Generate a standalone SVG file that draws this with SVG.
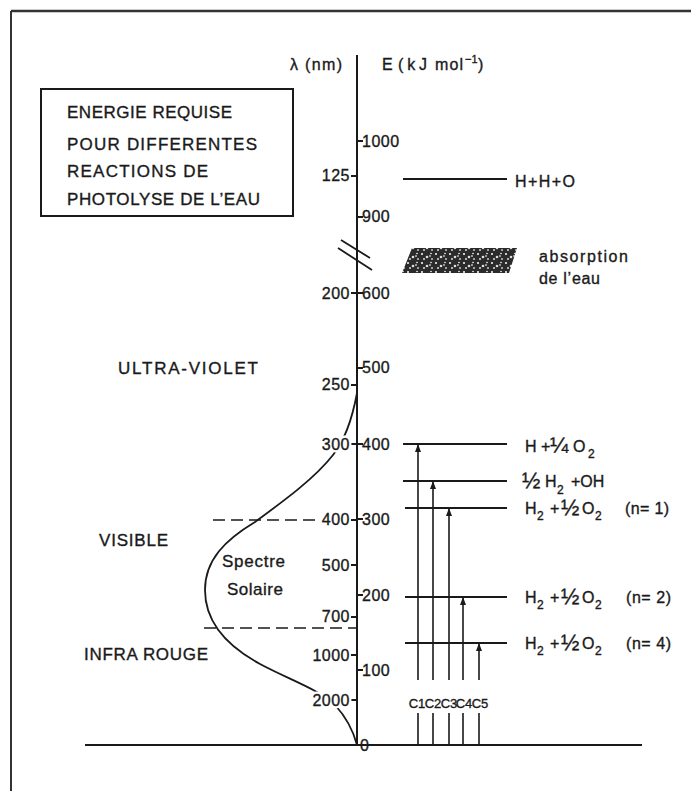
<svg xmlns="http://www.w3.org/2000/svg" width="691" height="791" viewBox="0 0 691 791">
<style>
text{font-family:"Liberation Sans",Arial,sans-serif;fill:#1a1a1a;stroke:#1a1a1a;stroke-width:0.35}
.ln{stroke:#1a1a1a;stroke-width:1.8;fill:none}
.ax{stroke:#1a1a1a;stroke-width:2;fill:none}
.tk{font-size:16px;letter-spacing:0.5px}
.halo{fill:#fff;stroke:#fff;stroke-width:5;stroke-linejoin:round}
.lbl{font-size:16px}
.big{font-size:17px}
.sub{font-size:12px}
.fr{font-size:22px}
.dash{stroke:#1a1a1a;stroke-width:1.6;stroke-dasharray:12 6;fill:none}
</style>
<defs>
<marker id="ah" markerWidth="8" markerHeight="6" refX="7" refY="3" orient="auto" markerUnits="userSpaceOnUse">
<path d="M0,0 L8,3 L0,6 Z" fill="#1a1a1a"/>
</marker>
<pattern id="spk" width="14" height="9" patternUnits="userSpaceOnUse">
<rect width="14" height="9" fill="#2b2b2b"/>
<circle cx="2" cy="2" r="1" fill="#fff"/>
<circle cx="7" cy="5" r="1.3" fill="#ddd"/>
<circle cx="11" cy="1.5" r="0.8" fill="#fff"/>
<circle cx="4" cy="7" r="0.9" fill="#eee"/>
<circle cx="12" cy="7" r="1.1" fill="#bbb"/>
<rect x="9" y="3.5" width="2" height="1" fill="#fff"/>
</pattern>
</defs>

<g id="frame">
<line x1="11" y1="11" x2="691" y2="11" stroke="#333" stroke-width="2.5"/>
<line x1="11" y1="11" x2="11" y2="791" stroke="#333" stroke-width="2"/>
</g>

<g id="title-box">
<rect x="41" y="89" width="252" height="127" fill="none" stroke="#1a1a1a" stroke-width="2"/>
<text class="big" x="67" y="118" textLength="165" lengthAdjust="spacing">ENERGIE REQUISE</text>
<text class="big" x="67" y="150" textLength="190" lengthAdjust="spacing">POUR DIFFERENTES</text>
<text class="big" x="67" y="177" textLength="141" lengthAdjust="spacing">REACTIONS DE</text>
<text class="big" x="67" y="205" textLength="193" lengthAdjust="spacing">PHOTOLYSE DE L’EAU</text>
</g>

<g id="axes">
<line class="ax" x1="357" y1="55" x2="357" y2="745"/>
<line class="ax" x1="85" y1="745" x2="642" y2="745"/>
<line class="ln" x1="341" y1="240" x2="370" y2="258"/>
<line class="ln" x1="338" y1="248" x2="372" y2="270"/>
<text x="290" y="70" font-size="16" textLength="52" lengthAdjust="spacing">λ (nm)</text>
<text x="382" y="70" font-size="16">E</text>
<text x="398" y="70" font-size="16" textLength="29" lengthAdjust="spacing">(kJ</text>
<text x="435" y="70" font-size="16" textLength="28" lengthAdjust="spacing">mol</text>
<text x="465" y="63" font-size="11">−1</text>
<text x="478" y="70" font-size="16">)</text>
</g>

<g id="spectrum-curve">
<path class="ln" d="M357,393 C352,420 345,440 333,455 C315,478 285,500 255,522 C225,540 205,560 205,590 C205,620 225,645 260,664 C290,680 320,690 335,705 C347,718 353,730 357,745"/>
<line class="dash" x1="213" y1="520" x2="318" y2="520"/>
<line class="dash" x1="204" y1="628" x2="356" y2="628"/>
<text x="222" y="567" font-size="17" textLength="63" lengthAdjust="spacing">Spectre</text>
<text x="227" y="595" font-size="17" textLength="56" lengthAdjust="spacing">Solaire</text>
</g>

<g id="energy-ticks">
<path class="ln" d="M357,141h6M357,217h6M357,293h6M357,368h6M357,444h6M357,519h6M357,595h6M357,670h6"/>
<text class="tk" x="362" y="147">1000</text>
<text class="tk" x="362" y="222">900</text>
<text class="tk" x="362" y="299">600</text>
<text class="tk" x="362" y="373">500</text>
<text class="tk" x="362" y="450">400</text>
<text class="tk" x="362" y="525">300</text>
<text class="tk" x="362" y="601">200</text>
<text class="tk" x="362" y="676">100</text>
<text class="tk" x="360" y="751">0</text>
</g>

<g id="wavelength-ticks">
<path class="ln" d="M351,176h6M351,293h6M351,385h6M351,444h6M351,520h6M351,565h6M351,617h6M351,655h6M351,700h6"/>
<text class="tk halo" x="350" y="450" text-anchor="end">300</text>
<text class="tk halo" x="350" y="706" text-anchor="end">2000</text>
<text class="tk" x="350" y="181" text-anchor="end">125</text>
<text class="tk" x="350" y="299" text-anchor="end">200</text>
<text class="tk" x="350" y="390" text-anchor="end">250</text>
<text class="tk" x="350" y="450" text-anchor="end">300</text>
<text class="tk" x="350" y="525" text-anchor="end">400</text>
<text class="tk" x="350" y="571" text-anchor="end">500</text>
<text class="tk" x="350" y="622" text-anchor="end">700</text>
<text class="tk" x="350" y="661" text-anchor="end">1000</text>
<text class="tk" x="350" y="706" text-anchor="end">2000</text>
</g>

<g id="regions">
<text class="big" x="118" y="374" textLength="140" lengthAdjust="spacing">ULTRA-VIOLET</text>
<text class="big" x="99" y="546" textLength="69" lengthAdjust="spacing">VISIBLE</text>
<text class="big" x="84" y="660" textLength="124" lengthAdjust="spacing">INFRA ROUGE</text>
</g>

<g id="level-HHO">
<line class="ln" x1="403" y1="179" x2="507" y2="179"/>
<text class="lbl" x="515" y="187" textLength="60" lengthAdjust="spacing">H+H+O</text>
</g>

<g id="absorption">
<polygon points="412,248 517,248 509,273 402,273" fill="url(#spk)"/>
<text class="lbl" x="539" y="262" textLength="89" lengthAdjust="spacing">absorption</text>
<text class="lbl" x="539" y="284" textLength="61" lengthAdjust="spacing">de l’eau</text>
</g>

<g id="level-1">
<line class="ln" x1="403" y1="444" x2="507" y2="444"/>
<text class="lbl" y="452"><tspan x="525">H</tspan><tspan x="541">+</tspan><tspan x="550" class="fr" dy="1">¼</tspan><tspan x="573" dy="-1">O</tspan></text>
<text class="sub" x="588" y="458">2</text>
</g>
<g id="level-2">
<line class="ln" x1="403" y1="481" x2="507" y2="481"/>
<text class="lbl" y="487"><tspan x="522" class="fr" dy="1">½</tspan><tspan x="545" dy="-1">H</tspan><tspan x="571">+OH</tspan></text>
<text class="sub" x="557" y="494">2</text>
</g>
<g id="level-3">
<line class="ln" x1="405" y1="508" x2="507" y2="508"/>
<text class="lbl" y="514"><tspan x="525">H</tspan><tspan x="550">+</tspan><tspan x="561" class="fr" dy="1">½</tspan><tspan x="582" dy="-1">O</tspan></text>
<text class="sub" x="537" y="520">2</text>
<text class="sub" x="595" y="520">2</text>
<text class="lbl" x="625" y="514" textLength="44" lengthAdjust="spacing">(n= 1)</text>
</g>
<g id="level-4">
<line class="ln" x1="405" y1="597" x2="507" y2="597"/>
<text class="lbl" y="603"><tspan x="525">H</tspan><tspan x="550">+</tspan><tspan x="561" class="fr" dy="1">½</tspan><tspan x="582" dy="-1">O</tspan></text>
<text class="sub" x="537" y="609">2</text>
<text class="sub" x="595" y="609">2</text>
<text class="lbl" x="626" y="603" textLength="45" lengthAdjust="spacing">(n= 2)</text>
</g>
<g id="level-5">
<line class="ln" x1="405" y1="643" x2="507" y2="643"/>
<text class="lbl" y="649"><tspan x="525">H</tspan><tspan x="550">+</tspan><tspan x="561" class="fr" dy="1">½</tspan><tspan x="582" dy="-1">O</tspan></text>
<text class="sub" x="537" y="655">2</text>
<text class="sub" x="595" y="655">2</text>
<text class="lbl" x="626" y="649" textLength="45" lengthAdjust="spacing">(n= 4)</text>
</g>

<g id="connectors" stroke="#1a1a1a" stroke-width="1.6" fill="none">
<line x1="418" y1="680" x2="418" y2="445" marker-end="url(#ah)"/>
<line x1="433" y1="680" x2="433" y2="482" marker-end="url(#ah)"/>
<line x1="449" y1="680" x2="449" y2="509" marker-end="url(#ah)"/>
<line x1="463" y1="680" x2="463" y2="598" marker-end="url(#ah)"/>
<line x1="479" y1="680" x2="479" y2="644" marker-end="url(#ah)"/>
<path d="M418,713V745M433,713V745M449,713V745M463,713V745M479,713V745"/>
</g>
<g id="connector-labels">
<text x="417" y="708" text-anchor="middle" font-size="13">C1</text>
<text x="433" y="708" text-anchor="middle" font-size="13">C2</text>
<text x="449" y="708" text-anchor="middle" font-size="13">C3</text>
<text x="464" y="708" text-anchor="middle" font-size="13">C4</text>
<text x="480" y="708" text-anchor="middle" font-size="13">C5</text>
</g>
</svg>
